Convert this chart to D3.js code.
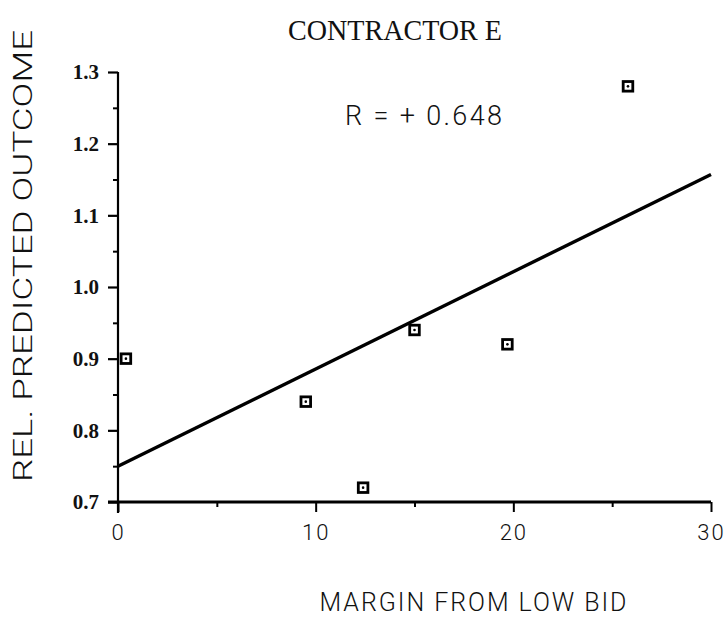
<!DOCTYPE html>
<html>
<head>
<meta charset="utf-8">
<script src="https://cdn.jsdelivr.net/npm/d3@7"></script>
<style>
  html, body { margin: 0; padding: 0; background: #fff; }
  svg { display: block; }
</style>
</head>
<body>
<svg id="chart" width="725" height="618"></svg>
<script>
// Margin from low bid (%) against relative predicted outcome, contractor E
const margin = [0.4, 9.5, 12.4, 15.0, 19.7, 25.8];
const outcome = [0.90, 0.84, 0.72, 0.94, 0.92, 1.28];

// Fitted regression line, as drawn on the chart (end points)
const fitX = [0, 30];
const fitY = [0.75, 1.157];

const xTicks = [0, 10, 20, 30];
const xMinorTicks = [5, 15, 25];
const yTicks = [0.7, 0.8, 0.9, 1.0, 1.1, 1.2, 1.3];
const yMinorTicks = [0.75, 0.85, 0.95, 1.05, 1.15, 1.25];

const titleText = "CONTRACTOR E";
const rText = "R = + 0.648";
const xLabel = "MARGIN FROM LOW BID";
const yLabel = "REL. PREDICTED OUTCOME";

const svg = d3.select("#chart");
const thinSans = "Roboto, Lato, 'Open Sans', sans-serif";
const serif = "'Liberation Serif', 'DejaVu Serif', serif";

const x = d3.scaleLinear().domain([0, 30]).range([118, 711]);
const y = d3.scaleLinear().domain([0.7, 1.3]).range([502, 72]);

// Axis lines
svg.append("line")
  .attr("x1", x(0)).attr("x2", x(0))
  .attr("y1", y(1.3)).attr("y2", y(0.7) + 11)
  .attr("stroke", "#000").attr("stroke-width", 2.2);
svg.append("line")
  .attr("x1", x(0) - 10).attr("x2", x(30))
  .attr("y1", y(0.7)).attr("y2", y(0.7))
  .attr("stroke", "#000").attr("stroke-width", 2.8);

// Y axis: major ticks with labels, minor ticks without
const yAxis = svg.append("g")
  .attr("transform", `translate(${x(0)},0)`)
  .call(d3.axisLeft(y).tickValues(yTicks).tickSize(10).tickPadding(9)
    .tickFormat(d3.format(".1f")));
yAxis.select(".domain").remove();
yAxis.selectAll(".tick line").attr("stroke", "#000").attr("stroke-width", 2.2);
yAxis.selectAll(".tick text")
  .attr("font-family", serif).attr("font-size", 21).attr("font-weight", "bold")
  .attr("fill", "#111");

const yMinor = svg.append("g")
  .attr("transform", `translate(${x(0)},0)`)
  .call(d3.axisLeft(y).tickValues(yMinorTicks).tickSize(5).tickFormat(""));
yMinor.select(".domain").remove();
yMinor.selectAll(".tick line").attr("stroke", "#000").attr("stroke-width", 2);

// X axis: ticks hang below the axis line
const xAxis = svg.append("g")
  .attr("transform", `translate(0,${y(0.7)})`)
  .call(d3.axisBottom(x).tickValues(xTicks).tickSize(10).tickPadding(12)
    .tickFormat(d3.format("d")));
xAxis.select(".domain").remove();
xAxis.selectAll(".tick line").attr("stroke", "#000").attr("stroke-width", 2);
xAxis.selectAll(".tick text")
  .attr("font-family", thinSans).attr("font-weight", 300)
  .attr("font-size", 22).attr("letter-spacing", 2).attr("fill", "#111");

const xMinor = svg.append("g")
  .attr("transform", `translate(0,${y(0.7)})`)
  .call(d3.axisBottom(x).tickValues(xMinorTicks).tickSize(5).tickFormat(""));
xMinor.select(".domain").remove();
xMinor.selectAll(".tick line").attr("stroke", "#000").attr("stroke-width", 2);

// Regression line
svg.append("line")
  .attr("x1", x(fitX[0])).attr("y1", y(fitY[0]))
  .attr("x2", x(fitX[1])).attr("y2", y(fitY[1]))
  .attr("stroke", "#000").attr("stroke-width", 3.4);

// Data points: open squares with a centre dot
const pts = margin.map((m, i) => ({ m, o: outcome[i] }));
const marks = svg.append("g").selectAll("g").data(pts).join("g")
  .attr("transform", d => `translate(${x(d.m)},${y(d.o)})`);
marks.append("rect")
  .attr("x", -4.8).attr("y", -4.8).attr("width", 9.6).attr("height", 9.6)
  .attr("fill", "#fff").attr("stroke", "#000").attr("stroke-width", 2.8);
marks.append("circle").attr("r", 1.3).attr("fill", "#000");

// Title
svg.append("text")
  .attr("x", 395).attr("y", 40)
  .attr("text-anchor", "middle")
  .attr("font-family", serif).attr("font-size", 29)
  .attr("textLength", 214).attr("lengthAdjust", "spacingAndGlyphs")
  .attr("fill", "#111")
  .text(titleText);

// Correlation coefficient
svg.append("text")
  .attr("x", 345).attr("y", 125)
  .attr("font-family", thinSans).attr("font-weight", 300).attr("font-size", 27)
  .attr("textLength", 157).attr("lengthAdjust", "spacing")
  .attr("fill", "#111")
  .text(rText);

// Axis titles
svg.append("text")
  .attr("x", 473).attr("y", 611)
  .attr("text-anchor", "middle")
  .attr("font-family", thinSans).attr("font-weight", 300).attr("font-size", 25)
  .attr("textLength", 307).attr("lengthAdjust", "spacing")
  .attr("fill", "#111")
  .text(xLabel);

svg.append("text")
  .attr("transform", "translate(32,256) rotate(-90)")
  .attr("text-anchor", "middle")
  .attr("font-family", thinSans).attr("font-weight", 300).attr("font-size", 26)
  .attr("textLength", 452).attr("lengthAdjust", "spacingAndGlyphs")
  .attr("fill", "#111")
  .text(yLabel);
</script>
</body>
</html>
